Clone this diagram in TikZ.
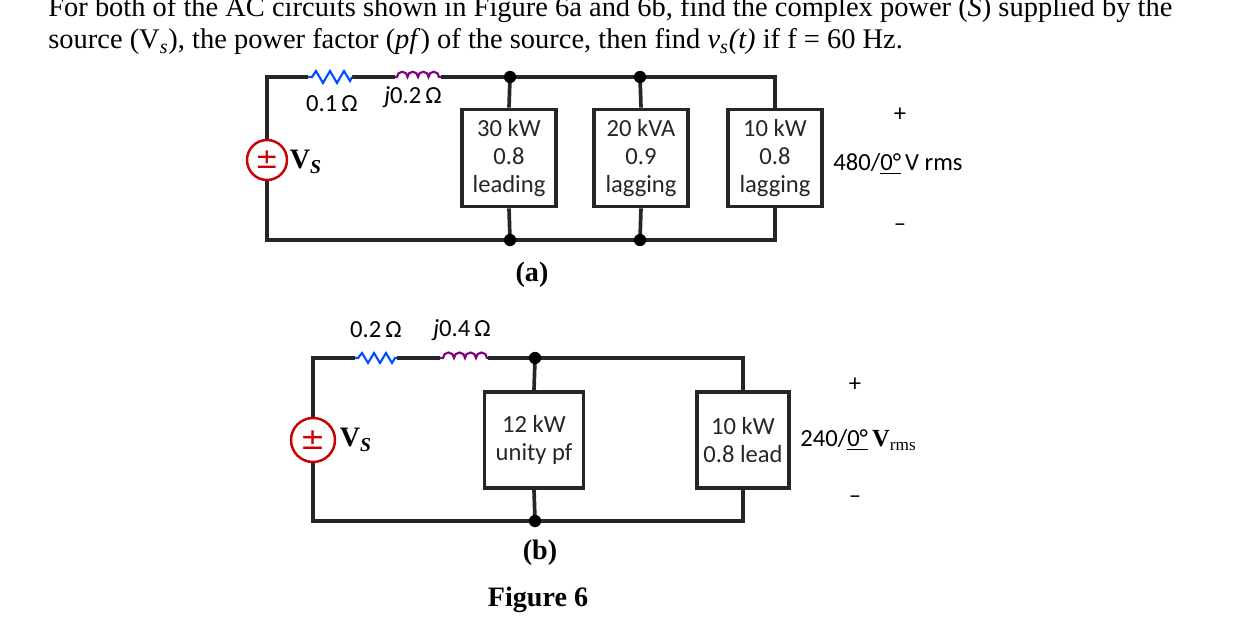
\documentclass[tikz,border=0pt]{standalone}
\usepackage{fontspec}
\setmainfont{Liberation Serif}
\newfontfamily\lbl{Carlito}
\newfontfamily\sym{DejaVu Sans}
\begin{document}
\begin{tikzpicture}[x=0.02cm,y=-0.02cm,
  wire/.style={line width=2.1pt,black!85},
  box/.style={draw,line width=2.1pt,black!85,fill=white,minimum width=#1,align=center,font=\lbl\fontsize{14}{16}\selectfont},
  dot/.style={circle,fill=black,inner sep=0pt,minimum size=7pt},
  lab/.style={font=\lbl\fontsize{14}{16}\selectfont,inner sep=0pt},
  txt/.style={font=\fontsize{16.2}{18}\selectfont,inner sep=0pt,anchor=base west}]
\useasboundingbox (0,0) rectangle (1243,618);
% header
\node[txt] (h1) at (48,17) {For both of the AC circuits shown in Figure 6a and 6b, find the complex power (\textit{S}) supplied by the};
\node[txt] (h2) at (48,49) {source (V\textsubscript{\textit{s}}), the power factor (\textit{pf}) of the source, then find \textit{v\textsubscript{s}(t)} if f = 60 Hz.};
% ---------- (a)
\coordinate (aTL) at (267,77); \coordinate (aBL) at (267,240);
\coordinate (ar1) at (308,77); \coordinate (ar2) at (352,77);
\coordinate (al1) at (395,77); \coordinate (al2) at (441,77);
\coordinate (aj1) at (510,77); \coordinate (aj2) at (640,77); \coordinate (aTR) at (775,77);
\coordinate (ab1) at (510,240); \coordinate (ab2) at (640,240); \coordinate (aBR) at (775,240);
\node[box=94*0.02cm, minimum height=97*0.02cm] (L1) at (509,158) {30 kW\\0.8\\leading};
\node[box=94*0.02cm, minimum height=97*0.02cm] (L2) at (641,158) {20 kVA\\0.9\\lagging};
\node[box=94*0.02cm, minimum height=97*0.02cm] (L3) at (775,158) {10 kW\\0.8\\lagging};
\node[draw=red!80!black,circle,line width=1.4pt,minimum size=40*0.02cm,inner sep=0pt,fill=white] (aS) at (267,160) {};
\draw[wire] (aS.north) -- (aTL) -- (ar1) (ar2) -- (al1) (al2) -- (aTR) -- (L3.north);
\draw[wire] (aS.south) -- (aBL) -- (aBR) -- (L3.south);
\draw[wire] (aj1) -- (L1.north) (L1.south) -- (ab1);
\draw[wire] (aj2) -- (L2.north) (L2.south) -- (ab2);
\draw[blue!70!cyan,line width=1.2pt] (ar1) -- (312,77) -- ++(4,-6) -- ++(7,12) -- ++(7,-12) -- ++(7,12) -- ++(7,-12) -- ++(6,10) -- (ar2);
\draw[violet,line width=1.2pt] (al1) -- ++(2,0) foreach \i in {1,...,4}{ arc[start angle=180,end angle=0,radius=5.25*0.02cm] } -- (al2);
\node[dot] (d1) at (aj1) {}; \node[dot] (d2) at (aj2) {};
\node[dot] (d3) at (ab1) {}; \node[dot] (d4) at (ab2) {};
\node[inner sep=0pt,text=red!80!black,font=\sym\fontsize{16}{16}\selectfont] (aSp) at (267,160) {±};
\node[font=\fontsize{16}{18}\selectfont\bfseries] (aSl) at (306,162) {V\textsubscript{\textit{S}}};
\node[lab] (aRl) at (332,104) {0.1\,Ω};
\node[lab] (aLl) at (413,97) {\textit{j}0.2\,Ω};
\node[lab] (aP) at (900,115) {+};
\node[lab] (aV) at (898,164) {480/\underline{0°}\,V rms};
\node[lab] (aM) at (900,228) {–};
\node[font=\fontsize{16}{18}\selectfont\bfseries] (aCap) at (532,275) {(a)};
% ---------- (b)
\coordinate (bTL) at (313,358); \coordinate (bBL) at (313,521);
\coordinate (br1) at (355,358); \coordinate (br2) at (397,358);
\coordinate (bl1) at (440,358); \coordinate (bl2) at (488,358);
\coordinate (bj) at (535,358); \coordinate (bTR) at (743,358);
\coordinate (bb) at (535,521); \coordinate (bBR) at (743,521);
\node[box=99*0.02cm, minimum height=96*0.02cm] (M1) at (534,440) {12 kW\\unity pf};
\node[box=92*0.02cm, minimum height=96*0.02cm] (M2) at (743,440) {10 kW\\0.8 lead};
\node[draw=red!80!black,circle,line width=1.4pt,minimum size=44*0.02cm,inner sep=0pt,fill=white] (bS) at (313,440) {};
\draw[wire] (bS.north) -- (bTL) -- (br1) (br2) -- (bl1) (bl2) -- (bTR) -- (M2.north);
\draw[wire] (bS.south) -- (bBL) -- (bBR) -- (M2.south);
\draw[wire] (bj) -- (M1.north) (M1.south) -- (bb);
\draw[blue!70!cyan,line width=1.2pt] (br1) -- (358,358) -- ++(4,-5) -- ++(6,10) -- ++(6,-10) -- ++(6,10) -- ++(6,-10) -- ++(6,10) -- ++(3,-5) -- (br2);
\draw[violet,line width=1.2pt] (bl1) -- ++(3,0) foreach \i in {1,...,4}{ arc[start angle=180,end angle=0,radius=5.5*0.02cm] } -- (bl2);
\node[dot] (e1) at (bj) {}; \node[dot] (e2) at (bb) {};
\node[inner sep=0pt,text=red!80!black,font=\sym\fontsize{17}{17}\selectfont] (bSp) at (313,440) {±};
\node[font=\fontsize{16}{18}\selectfont\bfseries] (bSl) at (356,440) {V\textsubscript{\textit{S}}};
\node[lab] (bRl) at (376,330) {0.2\,Ω};
\node[lab] (bLl) at (462,330) {\textit{j}0.4\,Ω};
\node[lab] (bP) at (855,385) {+};
\node[lab,anchor=west] (bV) at (800,440) {240/\underline{0°}\,{\rmfamily\bfseries V}\textsubscript{\rmfamily rms}};
\node[lab] (bM) at (855,500) {–};
\node[font=\fontsize{16}{18}\selectfont\bfseries] (bCap) at (540,553) {(b)};
\node[font=\fontsize{16}{18}\selectfont\bfseries] (fig) at (538,600) {Figure 6};
\end{tikzpicture}
\end{document}
